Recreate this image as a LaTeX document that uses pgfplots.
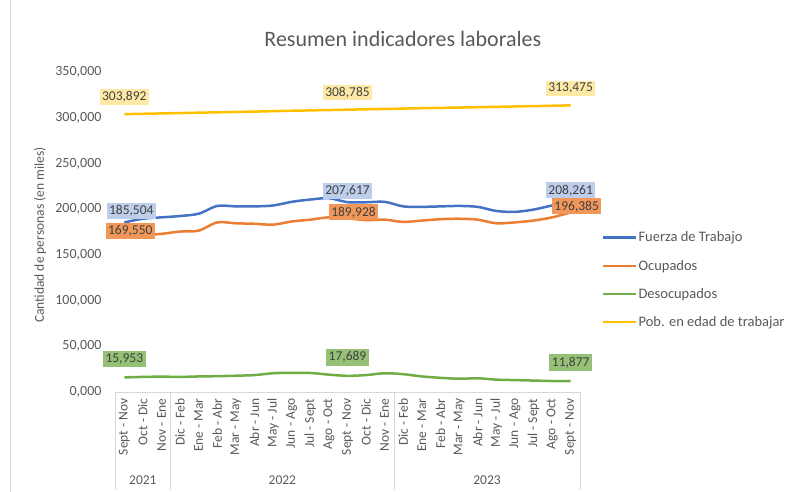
\documentclass[border=0pt]{standalone}
\usepackage{pgfplots}
\pgfplotsset{compat=1.18}
\usepackage{pgfplotstable}
\usepackage{fontspec}
\setmainfont{Carlito}
\definecolor{cblue}{HTML}{4472C4}
\definecolor{corange}{HTML}{ED7D31}
\definecolor{cgreen}{HTML}{70AD47}
\definecolor{cyellow}{HTML}{FFC000}
\definecolor{ctext}{HTML}{595959}
\definecolor{clab}{HTML}{404040}
\definecolor{cgrid}{HTML}{D9D9D9}
\newcommand\fs[1]{\fontsize{#1}{#1}\selectfont}

\pgfplotstableread{
x ft oc des pob
0 185504 169550 15953 303892
1 189500 171500 16500 304300
2 191000 173000 16800 304700
3 192500 175500 16500 305100
4 195000 176500 17000 305500
5 203500 185500 17300 305900
6 203000 184500 17800 306300
7 203000 184000 18500 306700
8 204000 183000 20500 307200
9 208000 186500 21000 307600
10 210500 188500 20800 308000
11 212000 191000 19000 308400
12 207617 189928 17689 308785
13 207500 188000 18500 309200
14 208000 188500 20500 309600
15 203000 186000 19500 310000
16 202500 187500 17000 310400
17 203000 189000 15500 310800
18 203500 189500 14500 311100
19 202500 188500 15000 311500
20 198000 184500 13500 311900
21 197000 185500 13000 312300
22 199500 187500 12500 312700
23 204000 191000 12000 313100
24 208261 196385 11877 313475
}\datatab

\begin{document}
\begin{tikzpicture}
\path[use as bounding box] (0,0) rectangle (788pt,492pt);
\draw[cgrid] (10pt,0pt) -- (10pt,492pt);
\begin{axis}[
  at={(115pt,100pt)}, anchor=south west,
  scale only axis, width=465pt, height=320pt,
  xmin=-0.5, xmax=24.5, ymin=0, ymax=350000,
  clip=false,
  scaled y ticks=false,
  xtick={0,...,24},
  xticklabels={Sept - Nov, Oct - Dic, Nov - Ene, Dic - Feb, Ene - Mar, Feb - Abr, Mar - May, Abr - Jun, May - Jul, Jun - Ago, Jul - Sept, Ago - Oct, Sept - Nov, Oct - Dic, Nov - Ene, Dic - Feb, Ene - Mar, Feb - Abr, Mar - May, Abr - Jun, May - Jul, Jun - Ago, Jul - Sept, Ago - Oct, Sept - Nov},
  ytick={0,50000,100000,150000,200000,250000,300000,350000},
  yticklabels={{0,000},{50,000},{100,000},{150,000},{200,000},{250,000},{300,000},{350,000}},
  axis x line*=bottom, axis y line*=left,
  y axis line style={draw=none},
  x axis line style={draw=cgrid, line width=0.8pt},
  tick style={draw=none},
  xticklabel style={rotate=90, anchor=east, font=\fs{13.5}, text=ctext},
  xticklabel shift=3pt,
  yticklabel style={font=\fs{14}, text=ctext},
  yticklabel shift=10pt,
  title={Resumen indicadores laborales},
  title style={at={(axis description cs:0.619,1)}, anchor=base, yshift=19pt, font=\fs{22}, text=ctext},
  ylabel={Cantidad de personas (en miles)},
  ylabel style={at={(axis description cs:-0.161,0.49)}, anchor=center, font=\fs{13.5}, text=ctext},
  legend style={at={(1.047,0.504)}, anchor=north west, draw=none, fill=none, font=\fs{14.5}, text=ctext, row sep=14.5pt, inner sep=0pt, nodes={inner sep=1pt}},
  legend cell align=left,
  legend image code/.code={\draw[#1, line width=2.5pt] (0pt,0pt) -- (33pt,0pt);},
]
\addplot[cblue, line width=2.5pt, smooth] table[x=x,y=ft]{\datatab};
\addlegendentry{Fuerza de Trabajo}
\addplot[corange, line width=2.5pt, smooth] table[x=x,y=oc]{\datatab};
\addlegendentry{Ocupados}
\addplot[cgreen, line width=2.5pt, smooth] table[x=x,y=des]{\datatab};
\addlegendentry{Desocupados}
\addplot[cyellow, line width=2.5pt, smooth] table[x=x,y=pob]{\datatab};
\addlegendentry{Pob. en edad de trabajar}

\addplot[draw=none, forget plot, point meta=explicit symbolic, nodes near coords,
  nodes near coords style={fill=cblue!35, text=clab, font=\fs{13.5}, inner sep=2.5pt, anchor=south, yshift=3pt, xshift=7pt}]
  table[x=x,y=y,meta=l]{
x y l
0 185504 185,504
};
\addplot[draw=none, forget plot, point meta=explicit symbolic, nodes near coords,
  nodes near coords style={fill=cblue!35, text=clab, font=\fs{13.5}, inner sep=2.5pt, anchor=south, yshift=3pt}]
  table[x=x,y=y,meta=l]{
x y l
12 207617 207,617
24 208261 208,261
};
\addplot[draw=none, forget plot, point meta=explicit symbolic, nodes near coords,
  nodes near coords style={fill=corange!80, text=clab, font=\fs{13.5}, inner sep=2.5pt, anchor=center, yshift=6pt, xshift=6pt}]
  table[x=x,y=y,meta=l]{
x y l
0 169550 169,550
12 189928 189,928
24 196385 196,385
};
\addplot[draw=none, forget plot, point meta=explicit symbolic, nodes near coords,
  nodes near coords style={fill=cgreen!75, text=clab, font=\fs{13.5}, inner sep=3pt, anchor=south, yshift=10pt}]
  table[x=x,y=y,meta=l]{
x y l
0 15953 15,953
12 17689 17,689
24 11877 11,877
};
\addplot[draw=none, forget plot, point meta=explicit symbolic, nodes near coords,
  nodes near coords style={fill=cyellow!35, text=clab, font=\fs{13.5}, inner sep=2.5pt, anchor=south, yshift=9pt}]
  table[x=x,y=y,meta=l]{
x y l
0 303892 303,892
12 308785 308,785
24 313475 313,475
};

\draw[cgrid, line width=0.8pt] (axis cs:-0.5,0) -- ([yshift=-98pt]axis cs:-0.5,0);
\draw[cgrid, line width=0.8pt] (axis cs:2.5,0) -- ([yshift=-98pt]axis cs:2.5,0);
\draw[cgrid, line width=0.8pt] (axis cs:14.5,0) -- ([yshift=-98pt]axis cs:14.5,0);
\draw[cgrid, line width=0.8pt] (axis cs:24.5,0) -- ([yshift=-98pt]axis cs:24.5,0);
\node[font=\fs{13.5}, text=ctext, yshift=-88pt] at (axis cs:1,0) {2021};
\node[font=\fs{13.5}, text=ctext, yshift=-88pt] at (axis cs:8.5,0) {2022};
\node[font=\fs{13.5}, text=ctext, yshift=-88pt] at (axis cs:19.5,0) {2023};
\end{axis}
\end{tikzpicture}
\end{document}
